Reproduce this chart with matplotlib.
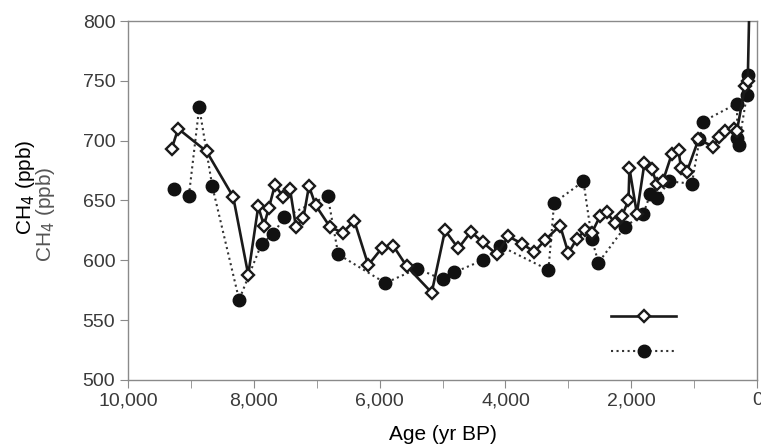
import matplotlib
matplotlib.use("Agg")
import matplotlib.pyplot as plt
from matplotlib.lines import Line2D
from matplotlib.ticker import MultipleLocator, FuncFormatter

plt.rcParams['font.family'] = ['Liberation Sans', 'DejaVu Sans']

# record 1 (open diamonds, solid line)
age_a = [9305, 9200, 8749, 8326, 8087, 7928, 7838, 7758, 7663, 7531, 7425, 7329,
         7213, 7122, 7016, 6789, 6587, 6402, 6180, 5967, 5782, 5569, 5172, 4960,
         4749, 4547, 4361, 4138, 3954, 3741, 3541, 3370, 3132, 3000, 2866, 2734,
         2628, 2496, 2389, 2258, 2151, 2045, 2030, 1912, 1792, 1674, 1595, 1500,
         1356, 1250, 1210, 1118, 933, 695, 600, 509, 376, 323, 191, 150, 90]
ch4_a = [693, 710, 691, 653, 588, 645, 629, 644, 663, 653, 660, 628,
         635, 662, 646, 628, 623, 633, 596, 610, 612, 595, 573, 625,
         610, 624, 615, 605, 620, 614, 607, 617, 629, 606, 618, 625,
         623, 637, 640, 631, 637, 650, 677, 639, 681, 676, 664, 666,
         689, 692, 677, 674, 701, 695, 703, 708, 710, 708, 746, 750, 900]

# record 2 (filled circles, dotted line)
age_b = [9269, 9030, 8866, 8659, 8232, 7874, 7689, 7515, 6825, 6657, 5909, 5400,
         4997, 4812, 4361, 4086, 3317, 3227, 2761, 2628, 2523, 2099, 1808, 1701,
         1595, 1394, 1038, 917, 863, 323, 313, 297, 164, 140]
ch4_b = [660, 654, 728, 662, 567, 614, 622, 636, 654, 605, 581, 593,
         584, 590, 600, 612, 592, 648, 666, 618, 598, 628, 639, 655,
         652, 666, 664, 701, 716, 731, 702, 696, 738, 755]

fig = plt.figure(figsize=(7.61, 4.47), dpi=100)
ax = fig.add_axes([0.168, 0.150, 0.827, 0.803])

ax.plot(age_b, ch4_b, linestyle=':', color='#333333', linewidth=1.5,
        marker='o', markersize=9, markerfacecolor='#111111',
        markeredgecolor='#111111', zorder=2)
ax.plot(age_a, ch4_a, linestyle='-', color='#1a1a1a', linewidth=1.9,
        marker='D', markersize=6.5, markerfacecolor='white',
        markeredgecolor='#1a1a1a', markeredgewidth=1.7, zorder=3)

ax.set_xlim(10000, 0)
ax.set_ylim(500, 800)
ax.xaxis.set_major_locator(MultipleLocator(2000))
ax.xaxis.set_minor_locator(MultipleLocator(1000))
ax.yaxis.set_major_locator(MultipleLocator(50))
ax.xaxis.set_major_formatter(FuncFormatter(lambda v, p: f"{int(v):,}"))

for s in ax.spines.values():
    s.set_color('#8a8a8a')
    s.set_linewidth(1.0)
ax.tick_params(axis='both', which='both', direction='out', color='#8a8a8a',
               labelcolor='#3a3a3a', labelsize=14)
ax.tick_params(axis='x', which='major', length=6, pad=3)
ax.tick_params(axis='x', which='minor', length=6)
ax.tick_params(axis='y', length=6, pad=3)

ax.set_xlabel('Age (yr BP)', fontsize=15, color='black', labelpad=11)
fig.text(0.033, 0.58, 'CH$_4$ (ppb)', rotation=90, fontsize=15,
         color='black', ha='center', va='center')
fig.text(0.060, 0.52, 'CH$_4$ (ppb)', rotation=90, fontsize=15,
         color='#555555', ha='center', va='center')

h1 = Line2D([], [], linestyle='-', color='#1a1a1a', linewidth=1.9, marker='D',
            markersize=6.5, markerfacecolor='white', markeredgecolor='#1a1a1a',
            markeredgewidth=1.7)
h2 = Line2D([], [], linestyle=':', color='#333333', linewidth=1.5, marker='o',
            markersize=9, markerfacecolor='#111111', markeredgecolor='#111111')
ax.legend([h1, h2], ['', ''], loc='center', bbox_to_anchor=(0.82, 0.125),
          frameon=False, handlelength=3.6, labelspacing=1.0, handletextpad=0,
          fontsize=13, numpoints=1)

fig.savefig('out.png', dpi=100)
